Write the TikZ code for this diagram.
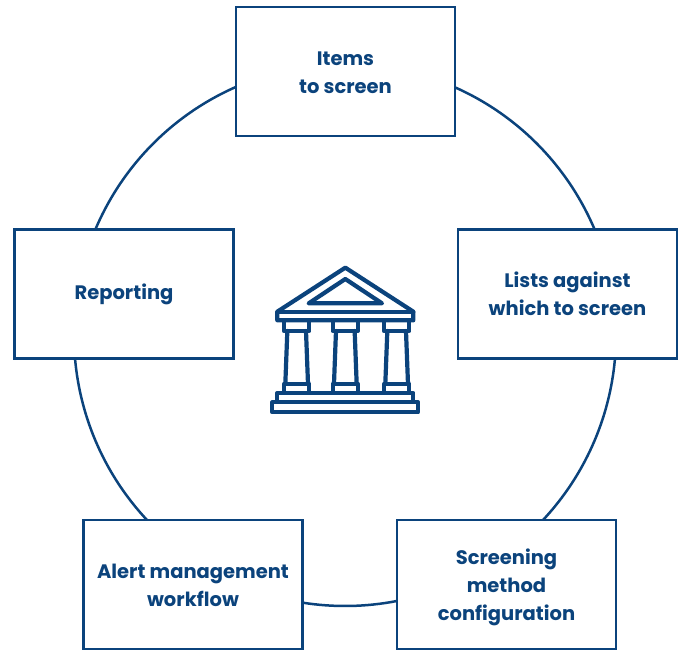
\documentclass[tikz,border=0pt]{standalone}
\usepackage{fontspec}
\setmainfont{Poppins}
\definecolor{navy}{HTML}{0B437C}
\newcommand{\firstline}[1]{\rule{0pt}{#1pt}}
\tikzset{
  stagebox/.style={draw=navy,line width=2.7pt,minimum width=219pt,minimum height=129pt,inner sep=0pt,align=center,text=navy,font=\fontsize{19.5pt}{28pt}\selectfont\bfseries},
  ring/.style={draw=navy,line width=2.5pt},
  icon/.style={draw=navy,line width=4.2pt,line join=round,line cap=round}
}
\begin{document}
\begin{tikzpicture}[x=1pt,y=-1pt]
\useasboundingbox (0,0) rectangle (685,650);
\coordinate (c) at (345,335);
\foreach \a/\b in {65.9/23, -5.1/-43, -79/-98.9, -137/-175, 157/113.7}{
  \draw[ring] ([shift={(-\a:271)}]c) arc[start angle=-\a,end angle=-\b,radius=271];
}
\node[stagebox] (items) at (345.5,71.5) {\firstline{16.5}Items\\to screen};
\node[stagebox] (lists) at (567.5,294) {\firstline{15.5}Lists against\\which to screen};
\node[stagebox] (config) at (506.5,584.5) {\firstline{20.5}Screening\\method\\configuration};
\node[stagebox] (alert) at (193,584.5) {\firstline{16.5}Alert management\\workflow};
\node[stagebox] (report) at (124,294) {Reporting};
\begin{scope}[shift={(260,255)},x=0.3333pt,y=-0.3333pt,icon]
\draw (256,38) -- (52,170) -- (52,196) -- (460,196) -- (460,170) -- cycle;
\draw (52,170) -- (460,170);
\draw (256,72) -- (146,145) -- (366,145) -- cycle;
\foreach \x in {110,256,410}{
  \draw (\x-38,196) rectangle (\x+38,228);
  \draw (\x-28,228) -- (\x-34,386) (\x+28,228) -- (\x+34,386);
  \draw (\x-38,386) rectangle (\x+38,414);
}
\draw (52,414) rectangle (460,442);
\draw (37,442) rectangle (474,472);
\end{scope}
\end{tikzpicture}
\end{document}
